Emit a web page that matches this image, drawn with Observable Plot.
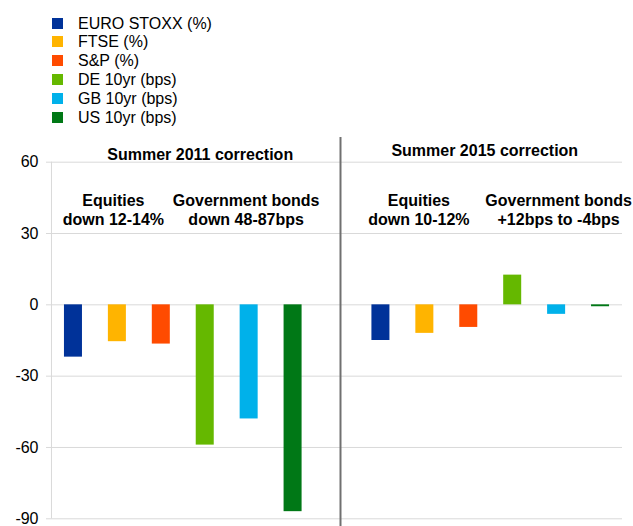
<!DOCTYPE html>
<html>
<head>
<meta charset="utf-8">
<script src="https://cdn.jsdelivr.net/npm/d3@7"></script>
<script src="https://cdn.jsdelivr.net/npm/@observablehq/plot@0.6"></script>
<style>
  html, body { margin: 0; padding: 0; background: #fff; }
  body { width: 633px; height: 526px; overflow: hidden; font-family: "Liberation Sans", Arial, sans-serif; }
  #legend { position: relative; height: 130px; }
  .item { position: absolute; left: 0; height: 19px; line-height: 19px; font-size: 16px; color: #000; white-space: nowrap; }
  .sw { position: absolute; left: 52px; top: 4px; width: 11px; height: 11px; }
  .lab { position: absolute; left: 78px; top: 0; }
  #chart svg { display: block; }
</style>
</head>
<body>
<div id="legend"></div>
<div id="chart"></div>
<script>
// ---- data ----
const series = ["EURO STOXX (%)", "FTSE (%)", "S&P (%)", "DE 10yr (bps)", "GB 10yr (bps)", "US 10yr (bps)"];
const seriesColors = ["#003299", "#FFB400", "#FF4B00", "#65B800", "#00B1EA", "#007816"];
const periods = ["Summer 2011 correction", "Summer 2015 correction"];
const values2011 = [-22, -15.5, -16.5, -59, -48, -87];
const values2015 = [-15, -12, -9.5, 12.5, -4, -0.8];
const yTicks = [60, 30, 0, -30, -60, -90];
const noteEquities = ["Equities\ndown 12-14%", "Equities\ndown 10-12%"];
const noteBonds = ["Government bonds\ndown 48-87bps", "Government bonds\n+12bps to -4bps"];

// ---- build table ----
const periodValues = [values2011, values2015];
const rows = [];
const xDomain = [];
periods.forEach((p, pi) => {
  if (pi > 0) xDomain.push("gap");
  series.forEach((s, si) => {
    const key = p + "|" + s;
    xDomain.push(key);
    rows.push({key, period: p, series: s, value: periodValues[pi][si]});
  });
});

// ---- legend ----
const legend = document.getElementById("legend");
series.forEach((s, i) => {
  const it = document.createElement("div");
  it.className = "item";
  it.style.top = (13.5 + i * 18.8) + "px";
  const sw = document.createElement("span");
  sw.className = "sw";
  sw.style.background = seriesColors[i];
  const lab = document.createElement("span");
  lab.className = "lab";
  lab.textContent = s;
  it.appendChild(sw);
  it.appendChild(lab);
  legend.appendChild(it);
});

// ---- annotation layout (anchor category index, y in data units, pixel nudge) ----
const k = (pi, si) => periods[pi] + "|" + series[si];
const textStyle = {fontSize: 16, fontWeight: "bold", fill: "#000", lineHeight: 1.19, lineAnchor: "middle"};
const notes = [
  {x: k(0, 3), y: 63.5, text: periods[0], dx: -5},
  {x: k(1, 2), y: 65, text: periods[1], dx: 16},
  {x: k(0, 1), y: 40.2, text: noteEquities[0], dx: -4},
  {x: k(0, 4), y: 40.2, text: noteBonds[0], dx: -3},
  {x: k(1, 1), y: 40.2, text: noteEquities[1], dx: -6},
  {x: k(1, 4), y: 40.2, text: noteBonds[1], dx: 2}
];

const insetTop = 24.7, insetBottom = 7.7;

const chart = Plot.plot({
  width: 633,
  height: 396,
  marginLeft: 51,
  marginRight: 11,
  marginTop: 7,
  marginBottom: 0,
  style: {fontFamily: "'Liberation Sans', Arial, sans-serif", fontSize: "16px", color: "#000", background: "#fff", overflow: "visible"},
  x: {domain: xDomain, paddingInner: 0.59, paddingOuter: 0.295, round: false, axis: null},
  y: {domain: [-90, 60], insetTop, insetBottom, axis: null},
  color: {domain: series, range: seriesColors},
  marks: [
    Plot.ruleY(yTicks, {stroke: "#d9d9d9", strokeWidth: 1}),
    Plot.ruleX([xDomain[0]], {y1: -90, y2: 60, stroke: "#d9d9d9", dx: -22}),
    Plot.axisY(yTicks, {tickSize: 5, tickPadding: 8, stroke: "#d9d9d9", fill: "#000", fontSize: 16, tickFormat: d => String(d)}),
    Plot.barY(rows, {x: "key", y: "value", fill: "series"}),
    Plot.ruleX(["gap"], {stroke: "#707070", strokeWidth: 2, dx: 3.5}),
    ...notes.map(n => Plot.text([n], {x: "x", y: "y", text: "text", dx: n.dx, ...textStyle}))
  ]
});
document.getElementById("chart").appendChild(chart);
</script>
</body>
</html>
